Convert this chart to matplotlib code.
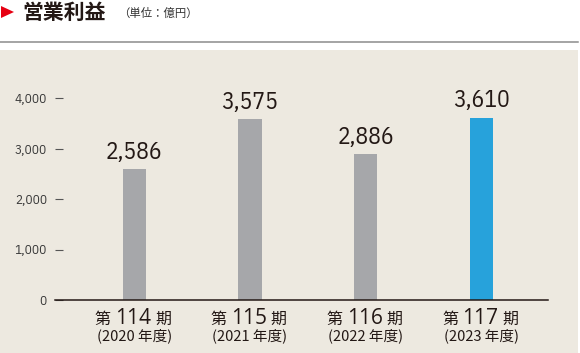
import matplotlib
matplotlib.use("Agg")
import matplotlib.pyplot as plt
from matplotlib.patches import Rectangle, Polygon
from matplotlib.lines import Line2D

periods = ["114", "115", "116", "117"]
years = ["2020", "2021", "2022", "2023"]
values = [2586, 3575, 2886, 3610]
value_labels = ["2,586", "3,575", "2,886", "3,610"]
yticks = [0, 1000, 2000, 3000, 4000]
ytick_labels = ["0", "1,000", "2,000", "3,000", "4,000"]
colors = ["#a6a7aa", "#a6a7aa", "#a6a7aa", "#27a2db"]

JP = ["Noto Sans CJK JP", "DejaVu Sans"]
COND = ["IBM Plex Sans Condensed", "DejaVu Sans"]
W, H = 580, 353
fig = plt.figure(figsize=(W / 100, H / 100), dpi=100)
fig.patch.set_facecolor("white")

def fx(x):
    return x / W

def fy(y):
    return 1 - y / H

# beige panel
fig.patches.append(Rectangle((0, 0), fx(578), fy(50), transform=fig.transFigure,
                             facecolor="#ede9e0", edgecolor="none", zorder=-10))
# separator line
fig.lines.append(Line2D([0, fx(578)], [fy(42), fy(42)], transform=fig.transFigure,
                        color="#8c8c8c", lw=1.1))
# red triangle
fig.patches.append(Polygon([(fx(1), fy(6)), (fx(14), fy(12)), (fx(1), fy(18))],
                           closed=True, transform=fig.transFigure,
                           facecolor="#e60012", edgecolor="none"))
fig.text(fx(22), fy(12.5), "営業利益", family=JP, fontsize=15, fontweight="bold",
         color="#231815", va="center", ha="left")
fig.text(fx(118), fy(13), "（単位：億円）", family=JP, fontsize=8.2,
         color="#333333", va="center", ha="left")

ax = fig.add_axes([fx(55), fy(300), fx(548) - fx(55), fy(98) - fy(300)])
ax.set_zorder(5)
ax.set_facecolor("none")
x = list(range(len(values)))
ax.bar(x, values, width=0.2, color=colors, zorder=2)
ax.set_xlim(-0.685, 3.575)
ax.set_ylim(0, 4000)
for s in ["top", "right", "left"]:
    ax.spines[s].set_visible(False)
ax.spines["bottom"].set_color("#231815")
ax.spines["bottom"].set_linewidth(1.1)
ax.set_yticks(yticks)
ax.set_yticklabels(ytick_labels, family=COND, fontsize=9.5, color="#3a3a3a")
ax.tick_params(axis="y", direction="in", length=6, width=0.8, color="#555555", pad=5.8)
ax.set_xticks([])

for xi, v, lab in zip(x, values, value_labels):
    ax.annotate(lab, xy=(xi, v), xytext=(0, 3.8), textcoords="offset points",
                ha="center", va="bottom", family=COND, fontweight="normal",
                fontsize=17, color="#231815")

trans = ax.get_xaxis_transform()
for xi, p, yr in zip(x, periods, years):
    num = ax.annotate(p, xy=(xi - 0.01, 0), xycoords=trans, xytext=(0, -17.3),
                      textcoords="offset points", ha="center", va="baseline",
                      family="Open Sans", fontstretch="normal", fontweight="normal",
                      fontsize=15, color="#231815")
    ax.annotate("第", xy=(0, 0), xycoords=(num, trans), xytext=(-3, -17.3),
                textcoords="offset points", ha="right", va="baseline",
                family=JP, fontsize=11.5, color="#231815")
    ax.annotate("期", xy=(1, 0), xycoords=(num, trans), xytext=(2.8, -17.3),
                textcoords="offset points", ha="left", va="baseline",
                family=JP, fontsize=11.5, color="#231815")
    ax.annotate(f"({yr} 年度)", xy=(xi, 0), xycoords=trans, xytext=(0, -29),
                textcoords="offset points", ha="center", va="baseline",
                family=JP, fontsize=10.5, color="#231815")

fig.savefig("out.png", dpi=100)
